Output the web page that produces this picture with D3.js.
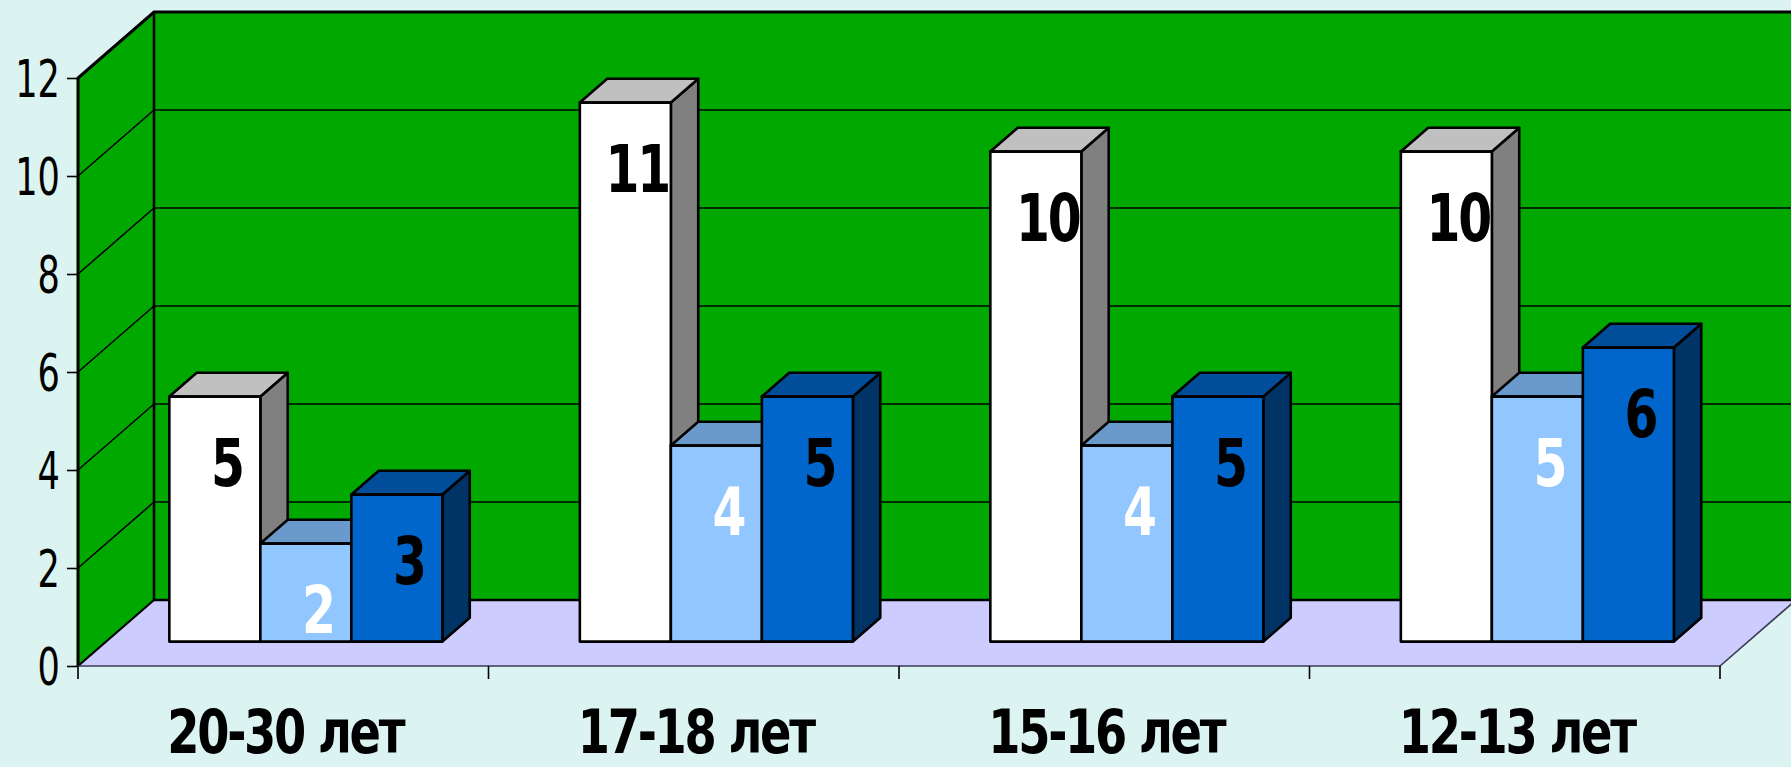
<!DOCTYPE html>
<html>
<head>
<meta charset="utf-8">
<script src="https://cdn.jsdelivr.net/npm/d3@7"></script>
<style>
  html, body { margin: 0; padding: 0; background: #dcf4f1; }
  svg { display: block; }
  text { font-family: "DejaVu Sans", Verdana, sans-serif; }
</style>
</head>
<body>
<svg id="chart" width="1791" height="767"></svg>
<script>
// Age groups along the x axis
const categories = ["20-30 лет", "17-18 лет", "15-16 лет", "12-13 лет"];
// Three series per group
const seriesKeys = ["s1", "s2", "s3"];
const series1 = [5, 11, 10, 10];
const series2 = [2, 4, 4, 5];
const series3 = [3, 5, 5, 6];
const yTicks = [0, 2, 4, 6, 8, 10, 12];

const seriesValues = { s1: series1, s2: series2, s3: series3 };

// Face colours of each column: front, top, side; and label colour
const seriesStyle = {
  s1: { front: "#ffffff", top: "#c0c0c0", side: "#808080", label: "#000000" },
  s2: { front: "#91c6ff", top: "#6a9acc", side: "#4d7399", label: "#ffffff" },
  s3: { front: "#0066cc", top: "#004d99", side: "#003366", label: "#000000" }
};

const svg = d3.select("#chart");

// Front plane scales
const x = d3.scaleBand().domain(categories).range([78, 1720]).paddingInner(0).paddingOuter(0);
const y = d3.scaleLinear().domain([0, 12]).range([666, 78]);

// Oblique depth vector for the full depth of the plot box
const DX = 76, DY = -66;
const proj = (px, py, d) => [px + d * DX, py + d * DY];

// Column depth placement (fraction of the full depth)
const d0 = 0.37, d1 = 0.73;

const inner = d3.scaleBand().domain(seriesKeys).range([0, x.bandwidth()])
  .paddingInner(0).paddingOuter(0.755).align(0.46);

const xL = x.range()[0], xR = x.range()[1];
const y0 = y(0), yTop = y(12);
const line = d3.line();

// Floor
svg.append("path")
  .attr("d", line([[xL, y0], [xR, y0], proj(xR, y0, 1), proj(xL, y0, 1)]) + "Z")
  .attr("fill", "#ccccff").attr("stroke", "none");

// Back wall (runs off the right edge)
const [bxL, byTop] = proj(xL, yTop, 1);
const [, byBot] = proj(xL, y0, 1);
svg.append("rect")
  .attr("x", bxL).attr("y", byTop)
  .attr("width", 1900 - bxL).attr("height", byBot - byTop)
  .attr("fill", "#00a800");

// Side wall
svg.append("path")
  .attr("d", line([[xL, y0], [xL, yTop], proj(xL, yTop, 1), proj(xL, y0, 1)]) + "Z")
  .attr("fill", "#00a800");

// Gridlines on back and side walls
yTicks.filter(t => t > 0 && t < 12).forEach(t => {
  const [sx, sy] = proj(xL, y(t), 1);
  svg.append("line").attr("x1", sx).attr("y1", sy).attr("x2", 1900).attr("y2", sy)
    .attr("stroke", "#000").attr("stroke-width", 1.6);
  svg.append("line").attr("x1", xL).attr("y1", y(t)).attr("x2", sx).attr("y2", sy)
    .attr("stroke", "#000").attr("stroke-width", 1.6);
});

// Box edges
svg.append("path")
  .attr("d", line([[xL, y0], [xL, yTop], proj(xL, yTop, 1), [1900, byTop]]))
  .attr("fill", "none").attr("stroke", "#000").attr("stroke-width", 3);
svg.append("path")
  .attr("d", line([[bxL, byTop], [bxL, byBot], [1900, byBot]]))
  .attr("fill", "none").attr("stroke", "#000").attr("stroke-width", 2.6);
svg.append("path")
  .attr("d", line([[xL, y0], proj(xL, y0, 1)]))
  .attr("fill", "none").attr("stroke", "#000").attr("stroke-width", 2.2);
// Floor front and right edges
svg.append("path")
  .attr("d", line([[xL, y0], [xR, y0], proj(xR, y0, 1)]))
  .attr("fill", "none").attr("stroke", "#3a3a55").attr("stroke-width", 1.6);

// Columns
const bars = svg.append("g");
categories.forEach((cat, ci) => {
  seriesKeys.forEach(key => {
    const v = seriesValues[key][ci];
    const st = seriesStyle[key];
    const fx0 = x(cat) + inner(key), fx1 = fx0 + inner.bandwidth();
    const a = proj(fx0, y(v), d0), b = proj(fx1, y(v), d0);
    const c = proj(fx1, y(0), d0), e = proj(fx0, y(0), d0);
    const bt = proj(fx1, y(v), d1), at = proj(fx0, y(v), d1), ct = proj(fx1, y(0), d1);
    const g = bars.append("g")
      .attr("stroke", "#000").attr("stroke-width", 2.6).attr("stroke-linejoin", "round");
    g.append("path").attr("d", line([b, bt, ct, c]) + "Z").attr("fill", st.side);
    g.append("path").attr("d", line([a, at, bt, b]) + "Z").attr("fill", st.top);
    g.append("path").attr("d", line([a, b, c, e]) + "Z").attr("fill", st.front);
  });
});

// Value labels
const labels = svg.append("g");
categories.forEach((cat, ci) => {
  seriesKeys.forEach(key => {
    const v = seriesValues[key][ci];
    const fx = x(cat) + inner(key) + inner.bandwidth() / 2;
    const [lx, ly] = proj(fx, y(v), d0);
    labels.append("g")
      .attr("transform", `translate(${lx + 12},${ly + 66}) scale(0.74,1)`)
      .append("text")
      .attr("text-anchor", "middle").attr("dy", "0.36em")
      .attr("font-size", 66).attr("font-weight", "bold")
      .attr("letter-spacing", -3)
      .attr("fill", seriesStyle[key].label)
      .text(v);
  });
});

// Y axis
const yAxis = svg.append("g")
  .attr("transform", `translate(${xL},0)`)
  .call(d3.axisLeft(y).tickValues(yTicks).tickSize(11).tickFormat(d3.format("d")));
yAxis.select(".domain").remove();
yAxis.selectAll(".tick line").attr("stroke", "#000").attr("stroke-width", 1.6);
yAxis.selectAll(".tick text")
  .attr("x", 0).attr("dy", "0.36em")
  .attr("transform", "translate(-18,0) scale(0.69,1)")
  .attr("font-size", 51).attr("fill", "#000")
  .attr("font-family", "'DejaVu Sans', Verdana, sans-serif");

// X axis ticks at category boundaries
const xTicks = categories.map(c => x(c)).concat([xR]);
svg.append("g").selectAll("line").data(xTicks).join("line")
  .attr("x1", d => d).attr("x2", d => d)
  .attr("y1", y0).attr("y2", y0 + 13)
  .attr("stroke", "#000").attr("stroke-width", 1.6);

// Category labels
svg.append("g").selectAll("g").data(categories).join("g")
  .attr("transform", d => `translate(${x(d) + x.bandwidth() / 2 + 2},753) scale(0.76,1)`)
  .append("text")
  .attr("text-anchor", "middle")
  .attr("font-size", 61).attr("font-weight", "bold").attr("fill", "#000")
  .attr("letter-spacing", -3)
  .text(d => d);
</script>
</body>
</html>
